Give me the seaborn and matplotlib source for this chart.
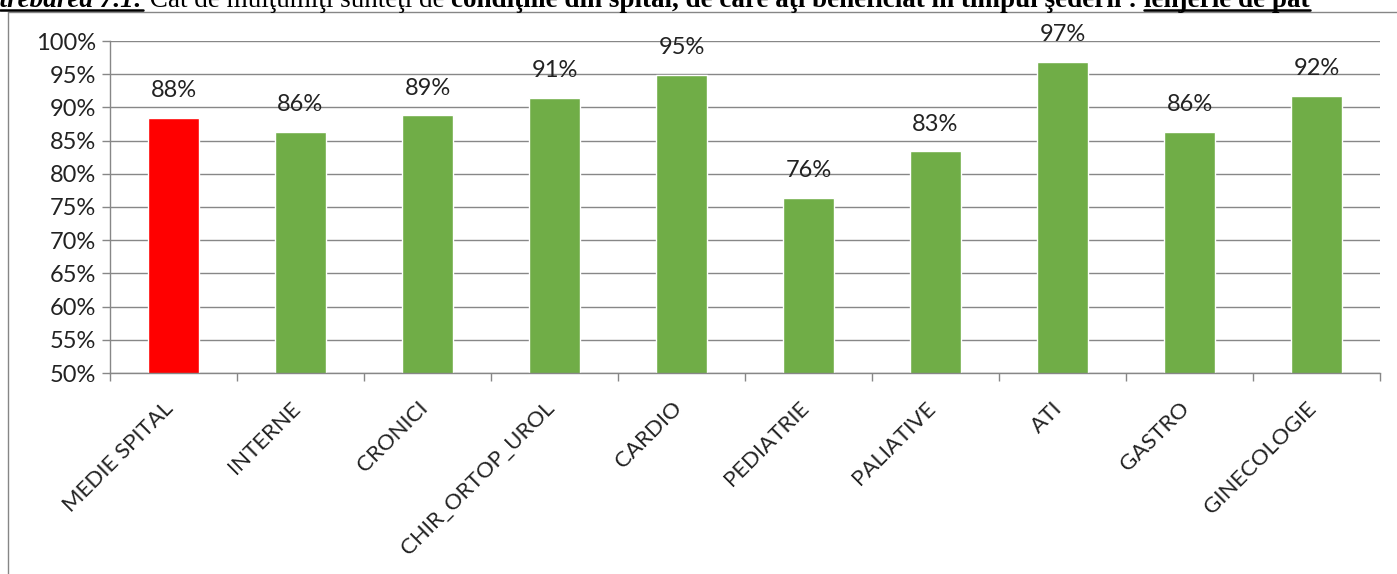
import numpy as np
import pandas as pd
import matplotlib
matplotlib.use("Agg")
import matplotlib.pyplot as plt
import seaborn as sns
from matplotlib.lines import Line2D
from matplotlib.transforms import offset_copy

sns.set_theme(style="white")
plt.rcParams['font.family'] = ['Lato', 'DejaVu Sans']

# values (percent)
sections = ['MEDIE SPITAL', 'INTERNE', 'CRONICI', 'CHIR_ORTOP_UROL', 'CARDIO',
            'PEDIATRIE', 'PALIATIVE', 'ATI', 'GASTRO', 'GINECOLOGIE']
scores = [88.4, 86.3, 88.8, 91.4, 94.9, 76.4, 83.4, 96.9, 86.3, 91.7]
bar_colors = ['#FF0000'] + ['#70AD47'] * 9
y_ticks = [50, 55, 60, 65, 70, 75, 80, 85, 90, 95, 100]

title_parts = [
    ("Întrebarea 7.1:", dict(weight='bold', style='italic'), True),
    (" Cât de mulţumiţi sunteţi de ", dict(weight='normal', style='normal'), False),
    ("condiţiile din spital, de care aţi beneficiat în timpul şederii :", dict(weight='bold', style='normal'), False),
    (" ", dict(weight='bold', style='normal'), False),
    ("lenjerie de pat", dict(weight='bold', style='normal'), True),
]

df = pd.DataFrame({'section': sections, 'score': scores})

W, H = 1397, 574
fig = plt.figure(figsize=(W / 100, H / 100), dpi=100)
fig.patch.set_facecolor('white')

# chart area border (only left and top visible in the crop)
fig.add_artist(Line2D([8 / W, 8 / W], [0, 1 - 12 / H], transform=fig.transFigure,
                      color='#868686', lw=1))
fig.add_artist(Line2D([8 / W, 1], [1 - 12 / H, 1 - 12 / H], transform=fig.transFigure,
                      color='#868686', lw=1))

ax = fig.add_axes([110 / W, 1 - 373 / H, (1380 - 110) / W, (373 - 41) / H])
sns.barplot(data=df, x='section', y='score', hue='section', palette=bar_colors,
            width=0.4, legend=False, ax=ax, saturation=1)

ax.set_ylim(50, 100)
ax.set_xlim(-0.5, len(sections) - 0.5)
ax.set_yticks(y_ticks)
ax.set_yticklabels([f"{v}%" for v in y_ticks], fontsize=17, color='#222222')
ax.yaxis.grid(True, color='#878787', lw=1)
ax.set_axisbelow(True)
ax.set_xlabel('')
ax.set_ylabel('')

ax.set_xticks(range(len(sections)))
ax.set_xticklabels(sections, rotation=45, ha='right', va='center', rotation_mode='anchor',
                   fontsize=16, color='#222222')
ax.tick_params(axis='x', which='major', length=0, pad=0)
for lab in ax.get_xticklabels():
    lab.set_transform(offset_copy(lab.get_transform(), fig=fig, x=-3, y=-32, units='dots'))
ax.set_xticks(np.arange(-0.5, len(sections), 1), minor=True)
ax.tick_params(axis='x', which='minor', length=6, color='#878787', width=1, direction='out',
               bottom=True)
ax.tick_params(axis='y', length=6, color='#878787', width=1, direction='out', left=True, pad=4)

for s in ['top', 'right']:
    ax.spines[s].set_visible(False)
for s in ['left', 'bottom']:
    ax.spines[s].set_color('#878787')
    ax.spines[s].set_linewidth(1)

for i, v in enumerate(scores):
    ax.annotate(f"{round(v):.0f}%", (i, v), xytext=(0, 12), textcoords='offset points',
                ha='center', va='bottom', fontsize=17, color='#222222')

# document title line, clipped at the top of the image
fig.canvas.draw()
renderer = fig.canvas.get_renderer()
texts = []
for txt, style, underline in title_parts:
    t = fig.text(0, 1 - 7 / H, txt, family='Liberation Serif', fontsize=19.5,
                 color='black', va='baseline', ha='left', **style)
    texts.append((t, underline))
widths = [t.get_window_extent(renderer).width for t, _ in texts]
x_px = 143 - widths[0]
for (t, underline), w in zip(texts, widths):
    t.set_x(x_px / W)
    if underline:
        fig.add_artist(Line2D([max(x_px, 0) / W, (x_px + w) / W], [1 - 10 / H, 1 - 10 / H],
                              transform=fig.transFigure, color='black', lw=1.8))
    x_px += w

fig.savefig('out.png', dpi=100, facecolor='white')
